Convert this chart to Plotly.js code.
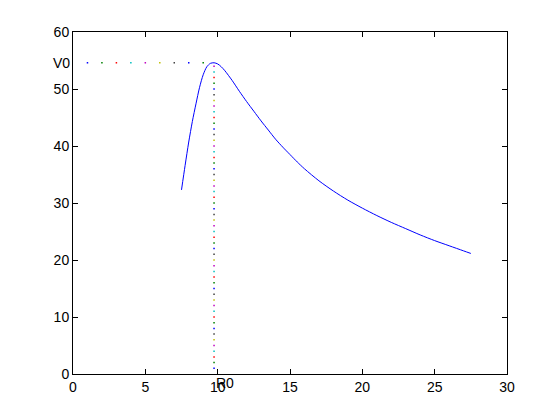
<!DOCTYPE html>
<html>
<head>
<meta charset="utf-8">
<script src="https://cdn.plot.ly/plotly-3.0.1.min.js"></script>
<style>html,body{margin:0;padding:0;background:#fff;}#plot{width:560px;height:420px;}</style>
</head>
<body>
<div id="plot"></div>
<script>
// Curve values
var curveX = [7.5, 7.75, 8.0, 8.25, 8.5, 8.75, 9.0, 9.25, 9.5, 9.75, 10.0, 10.25, 10.5, 11.0, 11.5, 12.0, 12.5, 13.0, 13.5, 14.0, 14.5, 15.0, 15.5, 16.0, 17.0, 18.0, 19.0, 20.0, 21.0, 22.0, 23.0, 24.0, 25.0, 26.0, 27.0, 27.5];
var curveY = [32.3, 36.6, 40.7, 44.3, 47.4, 50.3, 52.5, 53.9, 54.5, 54.6, 54.4, 53.9, 53.2, 51.5, 49.6, 47.8, 46.1, 44.4, 42.8, 41.2, 39.8, 38.5, 37.2, 36.0, 33.9, 32.1, 30.5, 29.1, 27.8, 26.6, 25.5, 24.4, 23.4, 22.5, 21.6, 21.15];

var V0 = 54.6;
var R0 = 9.75;
// Dotted guide points
var hDotX = [1, 2, 3, 4, 5, 6, 7, 8, 9];
var vDotY = [1, 2, 3, 4, 5, 6, 7, 8, 9, 10, 11, 12, 13, 14, 15, 16, 17, 18, 19, 20,
             21, 22, 23, 24, 25, 26, 27, 28, 29, 30, 31, 32, 33, 34, 35, 36, 37, 38, 39, 40,
             41, 42, 43, 44, 45, 46, 47, 48, 49, 50, 51, 52, 53, 54];
var xTicks = [0, 5, 10, 15, 20, 25, 30];
var yTicks = [0, 10, 20, 30, 40, 50, 60];
var xRange = [0, 30], yRange = [0, 60];
var labelOffset = -1.5;

var cycle = ['#0000ff', '#008000', '#ff0000', '#00bfbf', '#bf00bf', '#bfbf00', '#404040'];
function cyc(n) { var c = []; for (var i = 0; i < n; i++) c.push(cycle[i % cycle.length]); return c; }

var traces = [
  {x: curveX, y: curveY, mode: 'lines', line: {color: '#0000ff', width: 1, shape: 'spline', smoothing: 0.8}, hoverinfo: 'none'},
  {x: hDotX, y: hDotX.map(function(){return V0;}), mode: 'markers',
   marker: {symbol: 'square', size: 1.5, color: cyc(hDotX.length), line: {width: 0}}, hoverinfo: 'none'},
  {x: vDotY.map(function(){return R0;}), y: vDotY, mode: 'markers',
   marker: {symbol: 'square', size: 1.5, color: cyc(vDotY.length), line: {width: 0}}, hoverinfo: 'none'}
];

var font = {family: 'Liberation Sans, Arial, sans-serif', size: 14, color: '#000'};
var axisCommon = {
  showgrid: false, zeroline: false, showline: true, linecolor: '#000', linewidth: 1,
  mirror: 'ticks', ticks: 'inside', ticklen: 5, tickcolor: '#000', tickwidth: 1,
  tickfont: font
};

function px(v) { return (v - xRange[0]) / (xRange[1] - xRange[0]); }
function py(v) { return (v - yRange[0]) / (yRange[1] - yRange[0]); }

var layout = {
  width: 560, height: 420,
  margin: {l: 73, r: 53, t: 32, b: 46},
  paper_bgcolor: '#fff', plot_bgcolor: '#fff',
  showlegend: false,
  xaxis: Object.assign({}, axisCommon, {range: xRange, tickvals: xTicks, ticktext: xTicks.map(String)}),
  yaxis: Object.assign({}, axisCommon, {range: yRange, tickvals: yTicks, ticktext: yTicks.map(String)}),
  annotations: [
    {x: px(labelOffset), y: py(V0), xref: 'paper', yref: 'paper', text: 'V0', showarrow: false,
     xanchor: 'left', yanchor: 'middle', font: font},
    {x: px(R0), y: py(labelOffset), xref: 'paper', yref: 'paper', text: 'R0', showarrow: false,
     xanchor: 'left', yanchor: 'middle', font: font}
  ]
};

Plotly.newPlot('plot', traces, layout, {staticPlot: true, displayModeBar: false});
</script>
</body>
</html>
